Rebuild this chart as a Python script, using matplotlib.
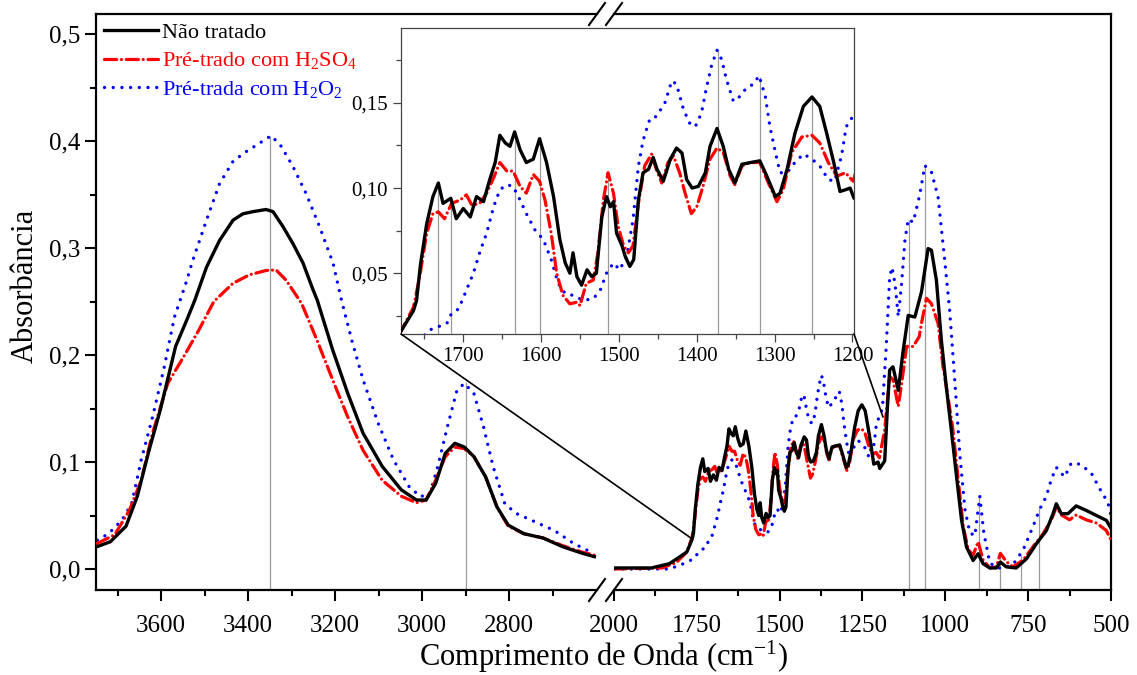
import matplotlib
matplotlib.use("Agg")
import matplotlib.pyplot as plt
from matplotlib.ticker import FixedLocator, FuncFormatter
from matplotlib.patches import ConnectionPatch
from matplotlib.lines import Line2D

plt.rcParams["font.family"] = ["Liberation Serif", "DejaVu Serif"]
plt.rcParams["mathtext.fontset"] = "custom"
plt.rcParams["mathtext.rm"] = "Liberation Serif"
plt.rcParams["mathtext.default"] = "regular"

# --- high wavenumber segment (3750 - 2600 cm-1) ---
wn_black_hi = [3747, 3717, 3681, 3655, 3628, 3602, 3567, 3541, 3523, 3496, 3466, 3435, 3412,
               3389, 3359, 3343, 3320, 3297, 3274, 3251, 3241, 3206, 3171, 3136, 3092, 3048,
               3013, 2991, 2969, 2947, 2925, 2903, 2881, 2854, 2828, 2802, 2766, 2722, 2678,
               2634, 2604]
black_hi = [0.021, 0.0255, 0.040, 0.068, 0.111, 0.149, 0.208, 0.233, 0.251, 0.282, 0.307, 0.326,
            0.332, 0.334, 0.336, 0.334, 0.320, 0.304, 0.286, 0.261, 0.251, 0.205, 0.164, 0.127,
            0.096, 0.074, 0.0645, 0.0645, 0.080, 0.108, 0.1175, 0.114, 0.105, 0.086, 0.058,
            0.041, 0.033, 0.029, 0.021, 0.015, 0.0115]

wn_red_hi = [3747, 3707, 3673, 3646, 3620, 3585, 3549, 3514, 3479, 3435, 3397, 3359, 3336,
             3313, 3290, 3277, 3242, 3206, 3171, 3136, 3092, 3048, 3013, 2991, 2969, 2947,
             2925, 2903, 2881, 2854, 2828, 2802, 2766, 2722, 2678, 2634, 2604]
red_hi = [0.024, 0.032, 0.055, 0.083, 0.127, 0.1735, 0.198, 0.223, 0.250, 0.267, 0.275, 0.279,
          0.2795, 0.270, 0.256, 0.248, 0.214, 0.177, 0.142, 0.111, 0.083, 0.068, 0.062, 0.0645,
          0.083, 0.105, 0.114, 0.1125, 0.105, 0.086, 0.058, 0.040, 0.033, 0.029, 0.022, 0.016,
          0.013]

wn_blue_hi = [3747, 3721, 3690, 3668, 3646, 3620, 3593, 3570, 3545, 3527, 3496, 3466, 3435,
              3405, 3374, 3347, 3324, 3297, 3267, 3236, 3205, 3186, 3162, 3136, 3101, 3066,
              3030, 3004, 2982, 2964, 2942, 2920, 2903, 2881, 2859, 2837, 2810, 2784, 2740,
              2696, 2652, 2608]
blue_hi = [0.027, 0.033, 0.046, 0.061, 0.102, 0.142, 0.189, 0.235, 0.265, 0.289, 0.326, 0.360,
           0.381, 0.390, 0.398, 0.405, 0.395, 0.376, 0.351, 0.320, 0.286, 0.252, 0.214, 0.177,
           0.136, 0.102, 0.077, 0.0676, 0.0707, 0.096, 0.133, 0.167, 0.1735, 0.164, 0.133,
           0.096, 0.061, 0.052, 0.044, 0.036, 0.024, 0.015]

# --- low wavenumber segment (2000 - 500 cm-1) ---
wn_black_lo = [2000, 1887, 1833, 1801, 1780, 1764, 1760, 1755, 1747, 1739, 1732, 1726, 1716,
               1709, 1700, 1691, 1683, 1674, 1666, 1659, 1653, 1646, 1640, 1634, 1627, 1619,
               1610, 1602, 1593, 1584, 1576, 1569, 1563, 1559, 1554, 1548, 1541, 1535, 1529,
               1522, 1516, 1511, 1507, 1503, 1496, 1492, 1486, 1481, 1475, 1469, 1462, 1456,
               1451, 1443, 1434, 1426, 1419, 1413, 1406, 1398, 1389, 1383, 1374, 1366, 1359,
               1351, 1342, 1331, 1319, 1310, 1299, 1293, 1284, 1274, 1263, 1252, 1242, 1233,
               1224, 1216, 1209, 1203, 1198, 1183, 1175, 1168, 1158, 1142, 1128, 1112, 1092,
               1072, 1052, 1042, 1027, 1012, 997, 982, 966, 951, 936, 916, 901, 886, 866, 846,
               834, 816, 786, 755, 725, 695, 675, 665, 650, 630, 605, 575, 544, 514, 500]
black_lo = [0.001, 0.001, 0.005, 0.0115, 0.016, 0.028, 0.034, 0.055, 0.079, 0.095, 0.103, 0.091,
            0.094, 0.082, 0.088, 0.083, 0.095, 0.092, 0.105, 0.115, 0.131, 0.1265, 0.1245,
            0.133, 0.1225, 0.115, 0.117, 0.129, 0.115, 0.095, 0.070, 0.056, 0.050, 0.062,
            0.048, 0.043, 0.052, 0.048, 0.050, 0.083, 0.095, 0.089, 0.092, 0.0735, 0.066,
            0.060, 0.054, 0.058, 0.093, 0.109, 0.111, 0.118, 0.111, 0.104, 0.117, 0.1235,
            0.1206, 0.105, 0.100, 0.101, 0.109, 0.1245, 0.135, 0.1245, 0.111, 0.103, 0.114,
            0.115, 0.116, 0.107, 0.095, 0.097, 0.111, 0.132, 0.148, 0.1535, 0.148, 0.132,
            0.115, 0.098, 0.099, 0.100, 0.094, 0.101, 0.150, 0.186, 0.189, 0.167, 0.2025,
            0.237, 0.2355, 0.259, 0.2995, 0.298, 0.270, 0.214, 0.170, 0.130, 0.086, 0.0455,
            0.0205, 0.008, 0.0143, 0.005, 0.001, 0.001, 0.0065, 0.002, 0.001, 0.0096, 0.0237,
            0.036, 0.0517, 0.061, 0.0517, 0.0517, 0.059, 0.0548, 0.050, 0.0455, 0.038]

wn_red_lo = [2000, 1855, 1812, 1780, 1764, 1756, 1747, 1739, 1732, 1724, 1715, 1704, 1696,
             1689, 1679, 1670, 1661, 1653, 1644, 1636, 1627, 1619, 1610, 1602, 1595, 1587,
             1580, 1572, 1563, 1554, 1550, 1542, 1533, 1527, 1520, 1514, 1507, 1501, 1494,
             1488, 1482, 1475, 1467, 1458, 1452, 1445, 1437, 1430, 1422, 1415, 1407, 1400,
             1392, 1383, 1374, 1366, 1357, 1351, 1342, 1332, 1319, 1308, 1297, 1289, 1278,
             1265, 1252, 1242, 1231, 1220, 1209, 1199, 1183, 1168, 1158, 1142, 1132, 1117,
             1097, 1079, 1072, 1057, 1042, 1022, 1007, 992, 977, 961, 946, 931, 916, 901,
             886, 866, 846, 834, 816, 796, 765, 735, 705, 680, 665, 650, 625, 605, 575, 544,
             514, 500]
red_lo = [0.0, 0.001, 0.006, 0.016, 0.030, 0.048, 0.0735, 0.085, 0.086, 0.082, 0.091, 0.093,
          0.096, 0.090, 0.091, 0.097, 0.106, 0.115, 0.110, 0.110, 0.101, 0.097, 0.108, 0.104,
          0.093, 0.0735, 0.050, 0.037, 0.032, 0.033, 0.031, 0.044, 0.046, 0.062, 0.093, 0.109,
          0.097, 0.0775, 0.066, 0.062, 0.066, 0.091, 0.113, 0.120, 0.111, 0.103, 0.115, 0.119,
          0.109, 0.097, 0.085, 0.089, 0.101, 0.117, 0.1235, 0.121, 0.107, 0.102, 0.113, 0.115,
          0.115, 0.103, 0.092, 0.099, 0.121, 0.130, 0.131, 0.1265, 0.115, 0.107, 0.109, 0.104,
          0.130, 0.180, 0.177, 0.152, 0.173, 0.208, 0.208, 0.217, 0.2296, 0.253, 0.248,
          0.2296, 0.189, 0.161, 0.130, 0.083, 0.040, 0.018, 0.013, 0.0255, 0.0085, 0.001,
          0.002, 0.0147, 0.007, 0.002, 0.0085, 0.021, 0.033, 0.046, 0.058, 0.0505, 0.046,
          0.0505, 0.046, 0.043, 0.036, 0.027]

wn_blue_lo = [2000, 1833, 1790, 1758, 1743, 1732, 1721, 1715, 1706, 1696, 1687, 1679, 1670,
              1661, 1653, 1644, 1636, 1627, 1619, 1608, 1597, 1587, 1578, 1569, 1559, 1546,
              1533, 1524, 1516, 1507, 1499, 1490, 1482, 1475, 1469, 1460, 1452, 1441, 1432,
              1426, 1417, 1409, 1402, 1394, 1388, 1381, 1374, 1368, 1362, 1353, 1344, 1336,
              1327, 1320, 1312, 1306, 1299, 1293, 1284, 1274, 1263, 1252, 1242, 1231, 1223,
              1214, 1208, 1201, 1190, 1178, 1168, 1161, 1152, 1142, 1132, 1122, 1112, 1097,
              1077, 1062, 1042, 1022, 1002, 987, 971, 956, 941, 926, 911, 896, 884, 866, 846,
              826, 796, 765, 735, 715, 695, 680, 665, 640, 620, 594, 560, 534, 509, 500]
blue_lo = [0.0, 0.0, 0.005, 0.0098, 0.0167, 0.0186, 0.0206, 0.0265, 0.029, 0.040, 0.050, 0.062,
           0.0735, 0.089, 0.099, 0.102, 0.101, 0.093, 0.085, 0.0755, 0.0696, 0.058, 0.044,
           0.038, 0.037, 0.034, 0.035, 0.040, 0.050, 0.056, 0.052, 0.060, 0.081, 0.113, 0.128,
           0.141, 0.142, 0.150, 0.163, 0.161, 0.146, 0.138, 0.136, 0.144, 0.158, 0.172, 0.181,
           0.1755, 0.164, 0.151, 0.154, 0.159, 0.161, 0.166, 0.154, 0.136, 0.121, 0.109, 0.109,
           0.115, 0.120, 0.117, 0.113, 0.105, 0.104, 0.119, 0.136, 0.141, 0.150, 0.210, 0.273,
           0.282, 0.267, 0.236, 0.267, 0.307, 0.327, 0.324, 0.350, 0.377, 0.371, 0.348, 0.289,
           0.242, 0.174, 0.106, 0.056, 0.034, 0.031, 0.068, 0.034, 0.006, 0.001, 0.001, 0.004,
           0.018, 0.040, 0.056, 0.068, 0.084, 0.095, 0.086, 0.099, 0.098, 0.090, 0.075, 0.062,
           0.050]

# peak marker lines (position, height)
peaks_hi = [3350, 2900]
peaks_hi_top = [0.405, 0.175]
peaks_lo = [1110, 1062, 899, 835, 772, 716]
peaks_lo_top = [0.326, 0.378, 0.067, 0.015, 0.013, 0.057]
peaks_inset = [1732, 1716, 1634, 1602, 1514, 1373, 1319, 1252]
peaks_inset_top = [0.103, 0.094, 0.133, 0.130, 0.109, 0.181, 0.165, 0.154]

labels = ["Não tratado", "Pré-trado com H$_2$SO$_4$", "Pré-trada com H$_2$O$_2$"]
colors = ["black", "red", "blue"]

Y_MIN, Y_MAX = -0.0196, 0.5187
ZOOM_X = (1780, 1198)
ZOOM_Y = (0.0143, 0.194)

fig = plt.figure(figsize=(11.37, 6.75), dpi=100)
W, H = 1137, 675


def px(x0, y0, x1, y1):
    return [x0 / W, 1 - y1 / H, (x1 - x0) / W, (y1 - y0) / H]


ax1 = fig.add_axes(px(96, 14, 597, 590))
ax2 = fig.add_axes(px(614, 14, 1111, 590))

style = {
    "black": dict(color="black", lw=2.4, solid_joinstyle="round"),
    "red": dict(color="red", lw=2.3, linestyle=(0, (3.8, 1.5, 0.01, 1.5)),
                dash_capstyle="round"),
    "blue": dict(color="blue", lw=2.4, linestyle=(0, (0.01, 2.6)), dash_capstyle="round"),
}

ax1.vlines(peaks_hi, Y_MIN, peaks_hi_top, color="#9a9a9a", lw=0.9, zorder=1)
ax2.vlines(peaks_lo, Y_MIN, peaks_lo_top, color="#9a9a9a", lw=0.9, zorder=1)

ax1.plot(wn_blue_hi, blue_hi, **style["blue"], zorder=2)
ax1.plot(wn_red_hi, red_hi, **style["red"], zorder=3)
ax1.plot(wn_black_hi, black_hi, **style["black"], zorder=4)
ax2.plot(wn_blue_lo, blue_lo, **style["blue"], zorder=2)
ax2.plot(wn_red_lo, red_lo, **style["red"], zorder=3)
ax2.plot(wn_black_lo, black_lo, **style["black"], zorder=4)

ax1.set_xlim(3750, 2598)
ax2.set_xlim(2000, 500)
for ax in (ax1, ax2):
    ax.set_ylim(Y_MIN, Y_MAX)
    for s in ax.spines.values():
        s.set_linewidth(1.6)
    ax.tick_params(which="major", direction="out", length=8, width=1.5, labelsize=18,
                   top=False, right=False)
    ax.tick_params(which="minor", direction="out", length=4.5, width=1.5,
                   top=False, right=False)

ax1.spines["right"].set_visible(False)
ax2.spines["left"].set_visible(False)
ax2.tick_params(axis="y", which="both", left=False, labelleft=False)

ax1.xaxis.set_major_locator(FixedLocator([3600, 3400, 3200, 3000, 2800]))
ax1.xaxis.set_minor_locator(FixedLocator([3700, 3500, 3300, 3100, 2900, 2700]))
ax2.xaxis.set_major_locator(FixedLocator([2000, 1750, 1500, 1250, 1000, 750, 500]))
ax2.xaxis.set_minor_locator(FixedLocator([1875, 1625, 1375, 1125, 875, 625]))
ax1.yaxis.set_major_locator(FixedLocator([0.0, 0.1, 0.2, 0.3, 0.4, 0.5]))
ax1.yaxis.set_minor_locator(FixedLocator([0.05, 0.15, 0.25, 0.35, 0.45]))
ax1.yaxis.set_major_formatter(FuncFormatter(lambda v, p: f"{v:.1f}".replace(".", ",")))
ax1.tick_params(axis="x", pad=10)
ax2.tick_params(axis="x", pad=10)

# break marks
for cx in (597, 614):
    for cy in (590, 14):
        fig.add_artist(Line2D([(cx - 8) / W, (cx + 8) / W], [1 - (cy + 11) / H, 1 - (cy - 11) / H],
                              color="black", lw=1.5))

handles = [Line2D([], [], **style[c]) for c in colors]
leg = ax1.legend(handles, labels, loc="upper left", bbox_to_anchor=(0.012, 0.99),
                 frameon=False, fontsize=16, handlelength=2.4, handletextpad=0.2,
                 labelspacing=0.35, borderaxespad=0, borderpad=0.1)
for t, c in zip(leg.get_texts(), colors):
    t.set_color(c)

fig.text(604 / W, 1 - 666 / H, "Comprimento de Onda (cm$^{-1}$)", ha="center",
         va="baseline", fontsize=22)
fig.text(25 / W, 1 - 286 / H, "Absorbância", rotation=90, ha="center", va="center",
         fontsize=22)

# inset
axi = fig.add_axes(px(401, 28, 854, 334))
axi.vlines(peaks_inset, ZOOM_Y[0], peaks_inset_top, color="#9a9a9a", lw=0.9, zorder=1)
axi.plot(wn_blue_lo, blue_lo, **style["blue"], zorder=2)
axi.plot(wn_red_lo, red_lo, **style["red"], zorder=3)
axi.plot(wn_black_lo, black_lo, **style["black"], zorder=4)
axi.set_xlim(*ZOOM_X)
axi.set_ylim(*ZOOM_Y)
for s in axi.spines.values():
    s.set_linewidth(0.9)
    s.set_color("#444444")
axi.xaxis.set_major_locator(FixedLocator([1700, 1600, 1500, 1400, 1300, 1200]))
axi.xaxis.set_minor_locator(FixedLocator([1750, 1650, 1550, 1450, 1350, 1250]))
axi.yaxis.set_major_locator(FixedLocator([0.05, 0.10, 0.15]))
axi.yaxis.set_minor_locator(FixedLocator([0.025, 0.075, 0.125, 0.175]))
axi.yaxis.set_major_formatter(FuncFormatter(lambda v, p: f"{v:.2f}".replace(".", ",")))
axi.tick_params(which="major", direction="out", length=6, width=0.9, labelsize=15,
                color="#444444")
axi.tick_params(which="minor", direction="out", length=3.5, width=0.9, color="#444444")

# zoom connectors
for xa, ya, xb, yb in [(ZOOM_X[0], ZOOM_Y[0], 1768, 0.029), (ZOOM_X[1], ZOOM_Y[0], 1188, 0.142)]:
    con = ConnectionPatch(xyA=(xa, ya), coordsA=axi.transData, xyB=(xb, yb),
                          coordsB=ax2.transData, color="black", lw=1.2)
    fig.add_artist(con)

fig.savefig("out.png", dpi=100)
